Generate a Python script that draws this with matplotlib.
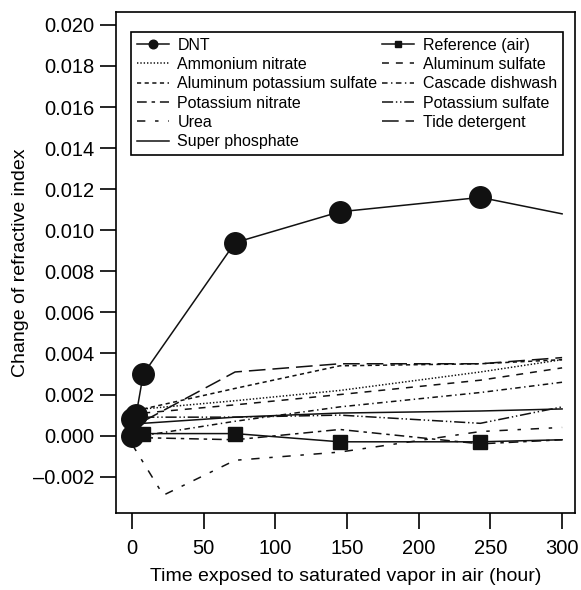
import matplotlib
matplotlib.use("Agg")
from matplotlib import pyplot as plt
from matplotlib.ticker import FixedLocator, FuncFormatter

plt.rcParams['font.family'] = ['Liberation Sans', 'DejaVu Sans']
plt.rcParams['lines.scale_dashes'] = False

# data (hours, change of refractive index)
dnt_x = [0, 0, 3, 8, 72, 145, 243, 300]
dnt_y = [0.0, 0.0008, 0.0010, 0.0030, 0.0094, 0.0109, 0.0116, 0.0108]

ref_x = [0, 8, 72, 145, 243, 300]
ref_y = [0.0, 0.0001, 0.0001, -0.0003, -0.0003, -0.0002]

t = [8, 72, 145, 243, 300]
ammonium_nitrate = [0.0013, 0.0017, 0.0022, 0.0031, 0.0037]
aluminum_sulfate = [0.0011, 0.0015, 0.0020, 0.0027, 0.0033]
alum_potassium_sulfate = [0.0013, 0.0023, 0.0034, 0.0035, 0.0037]
cascade_dishwash = [0.0000, 0.0007, 0.0014, 0.0021, 0.0026]
potassium_nitrate = [-0.0001, -0.0002, 0.0003, -0.0004, -0.0002]
potassium_sulfate = [0.0009, 0.0009, 0.0010, 0.0006, 0.0014]
tide_detergent = [0.0007, 0.0031, 0.0035, 0.0035, 0.0038]
super_phosphate = [0.0006, 0.0009, 0.0011, 0.0012, 0.0013]

urea_x = [0, 22, 72, 145, 243, 300]
urea_y = [-0.0004, -0.0029, -0.0012, -0.0008, 0.0002, 0.0004]

fig = plt.figure(figsize=(5.81, 5.9), dpi=100)
ax = fig.add_axes([0.1997, 0.1297, 0.79, 0.85])

lw = 1.1
h_dnt, = ax.plot(dnt_x, dnt_y, '-', color='#111111', lw=lw, marker='o', ms=15.5,
                 markevery=list(range(7)), label='DNT')
h_ref, = ax.plot(ref_x, ref_y, '-', color='#111111', lw=lw, marker='s', ms=10,
                 markevery=list(range(5)), label='Reference (air)')
h_an, = ax.plot(t, ammonium_nitrate, color='#111111', lw=lw, ls=(0, (1, 1.4)),
                label='Ammonium nitrate')
h_as, = ax.plot(t, aluminum_sulfate, color='#111111', lw=lw, ls=(0, (5, 5)),
                label='Aluminum sulfate')
h_aps, = ax.plot(t, alum_potassium_sulfate, color='#111111', lw=lw, ls=(0, (3, 2.5)),
                 label='Aluminum potassium sulfate')
h_cd, = ax.plot(t, cascade_dishwash, color='#111111', lw=lw, ls=(0, (4, 2.5, 1, 2.5)),
                label='Cascade dishwash')
h_pn, = ax.plot(t, potassium_nitrate, color='#111111', lw=lw, ls=(0, (7, 3.5, 2.5, 3.5)),
                label='Potassium nitrate')
h_ps, = ax.plot(t, potassium_sulfate, color='#111111', lw=lw, ls=(0, (8, 2, 1, 2, 1, 2)),
                label='Potassium sulfate')
h_urea, = ax.plot(urea_x, urea_y, color='#111111', lw=lw, ls=(0, (6, 7, 2.5, 7)),
                  label='Urea')
h_tide, = ax.plot(t, tide_detergent, color='#111111', lw=lw, ls=(0, (12, 5)),
                  label='Tide detergent')
h_sp, = ax.plot(t, super_phosphate, color='#111111', lw=lw, ls='-',
                label='Super phosphate')

ax.set_xlim(-11, 309)
ax.set_ylim(-0.00379, 0.02063)
ax.xaxis.set_major_locator(FixedLocator([0, 50, 100, 150, 200, 250, 300]))
ax.yaxis.set_major_locator(FixedLocator([-0.002 + 0.002 * i for i in range(12)]))
ax.yaxis.set_major_formatter(FuncFormatter(lambda v, p: ('%.3f' % v).replace('-', '\u2013')))

for s in ax.spines.values():
    s.set_linewidth(1.2)
ax.tick_params(direction='out', length=11.5, width=1.2, labelsize=14.5)
ax.tick_params(axis='x', pad=7)
ax.tick_params(axis='y', pad=4)

ax.set_xlabel('Time exposed to saturated vapor in air (hour)', fontsize=14, labelpad=7)
ax.set_ylabel('Change of refractive index', fontsize=14, labelpad=3)

# legend columns are filled top-down, so order handles column by column
handles = [h_dnt, h_an, h_aps, h_pn, h_urea, h_sp,
           h_ref, h_as, h_cd, h_ps, h_tide]
leg = ax.legend(handles=handles, ncol=2, loc='upper left',
                bbox_to_anchor=(0.033, 0.96), borderaxespad=0,
                fontsize=11.5, markerscale=0.4, handlelength=2.0,
                handletextpad=0.55, columnspacing=0.3, labelspacing=0.27,
                borderpad=0.35, fancybox=False, framealpha=1, edgecolor='black')
leg.get_frame().set_linewidth(1.2)

fig.savefig('out.png', dpi=100)
